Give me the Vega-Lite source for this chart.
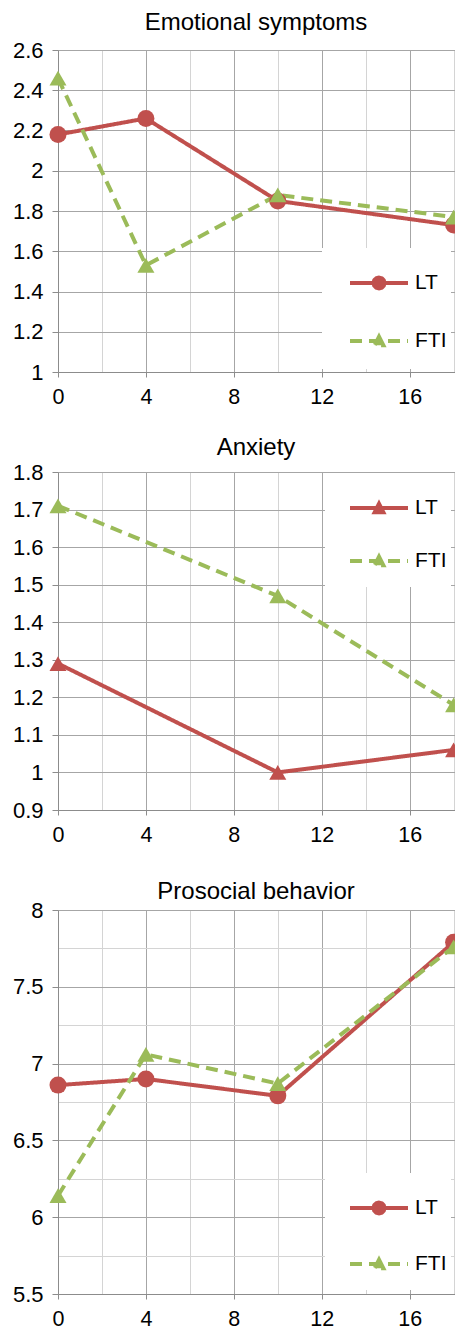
{
  "$schema": "https://vega.github.io/schema/vega-lite/v6.json",
  "padding": {"left": 12, "top": 10, "right": 0, "bottom": 0},
  "background": "white",
  "spacing": 100,
  "bounds": "flush",
  "config": {
    "font": "Liberation Sans",
    "view": {"stroke": null},
    "axis": {
      "labelFont": "Liberation Sans",
      "labelColor": "black",
      "labelFontSize": 22,
      "labelFlush": false,
      "labelOverlap": false,
      "domainColor": "#8c8c8c",
      "tickColor": "#8c8c8c",
      "gridWidth": 1,
      "title": null
    },
    "legend": {"symbolOpacity": 1},
    "title": {"font": "Liberation Sans", "fontSize": 24, "fontWeight": "normal", "color": "black", "baseline": "alphabetic", "offset": 0}
  },
  "resolve": {
    "scale": {"color": "independent", "shape": "independent", "strokeDash": "independent"},
    "legend": {"color": "independent", "shape": "independent", "strokeDash": "independent"}
  },
  "datasets": {
    "emo": [
      {"group": "LT", "x": 0, "y": 2.18},
      {"group": "LT", "x": 4, "y": 2.26},
      {"group": "LT", "x": 10, "y": 1.85},
      {"group": "LT", "x": 18, "y": 1.73},
      {"group": "FTI", "x": 0, "y": 2.46},
      {"group": "FTI", "x": 4, "y": 1.53},
      {"group": "FTI", "x": 10, "y": 1.88},
      {"group": "FTI", "x": 18, "y": 1.77}
    ],
    "anx": [
      {"group": "LT", "x": 0, "y": 1.29},
      {"group": "LT", "x": 10, "y": 1.0},
      {"group": "LT", "x": 18, "y": 1.06},
      {"group": "FTI", "x": 0, "y": 1.71},
      {"group": "FTI", "x": 10, "y": 1.47},
      {"group": "FTI", "x": 18, "y": 1.18}
    ],
    "pro": [
      {"group": "LT", "x": 0, "y": 6.86},
      {"group": "LT", "x": 4, "y": 6.9},
      {"group": "LT", "x": 10, "y": 6.79},
      {"group": "LT", "x": 18, "y": 7.79},
      {"group": "FTI", "x": 0, "y": 6.14},
      {"group": "FTI", "x": 4, "y": 7.06},
      {"group": "FTI", "x": 10, "y": 6.87},
      {"group": "FTI", "x": 18, "y": 7.76}
    ]
  },
  "vconcat": [
    {
      "width": 400,
      "height": 322,
      "title": {"text": "Emotional symptoms", "dx": -2, "dy": -0.5},
      "data": {"name": "emo"},
      "encoding": {
        "x": {"field": "x", "type": "quantitative", "scale": {"domain": [0, 18.2], "nice": false, "zero": false},
          "axis": {"values": [0, 2, 4, 6, 8, 10, 12, 14, 16, 18], "labelExpr": "datum.value % 4 === 0 ? datum.label : ''",
            "gridColor": {"condition": {"test": "datum.value % 4 === 0", "value": "#a6a6a6"}, "value": "#d4d4d4"},
            "tickOpacity": {"condition": {"test": "datum.value % 4 === 0", "value": 1}, "value": 0},
            "tickSize": 5, "labelPadding": 9, "labelFontSize": 21.5}},
        "y": {"field": "y", "type": "quantitative", "scale": {"domain": [1, 2.6], "nice": false, "zero": false},
          "axis": {"values": [1, 1.2, 1.4, 1.6, 1.8, 2, 2.2, 2.4, 2.6], "format": "~g", "gridColor": "#a6a6a6", "tickSize": 6, "labelPadding": 9}}
      },
      "layer": [
        {
          "mark": {"type": "line", "strokeWidth": 4, "strokeCap": "butt", "strokeJoin": "round"},
          "encoding": {
            "color": {"field": "group", "type": "nominal", "scale": {"domain": ["LT", "FTI"], "range": ["#C0504D", "#9BBB59"]},
              "legend": {"title": null, "orient": "none", "legendX": 264, "legendY": 198, "direction": "vertical",
                "fillColor": "white", "padding": 4, "symbolSize": 3364, "symbolStrokeWidth": 4, "symbolOffset": 22, "symbolOpacity": 1,
                "labelOffset": 5, "labelFontSize": 21, "labelFont": "Liberation Sans", "labelColor": "black", "rowPadding": -1}},
            "strokeDash": {"field": "group", "type": "nominal", "scale": {"domain": ["LT", "FTI"], "range": [[1, 0], [12, 7]]}, "legend": null}
          }
        },
        {
          "mark": {"type": "point", "filled": true, "size": 0.01, "opacity": 1},
          "encoding": {
            "color": {"field": "group", "type": "nominal"},
            "shape": {"field": "group", "type": "nominal", "legend": null, "scale": {"domain": ["LT", "FTI"], "range": [
              "M0,-0.9M0,0.55M-1,0L1,0M0.19,0L0.165,0.095L0.095,0.165L0,0.19L-0.095,0.165L-0.165,0.095L-0.19,0L-0.165,-0.095L-0.095,-0.165L0,-0.19L0.095,-0.165L0.165,-0.095Z",
              "M0,-0.9M0,0.55M-1,0L1,0M0,-0.15L0.15,0.15L-0.15,0.15Z"]}}
          }
        },
        {"transform": [{"filter": "datum.group === 'LT'"}],
          "mark": {"type": "point", "filled": true, "size": 290, "opacity": 1, "shape": "circle", "color": "#C0504D"}},
        {"transform": [{"filter": "datum.group === 'FTI'"}],
          "mark": {"type": "point", "filled": true, "size": 290, "opacity": 1, "shape": "triangle-up", "color": "#9BBB59"}}
      ]
    },
    {
      "width": 400,
      "height": 338,
      "title": {"text": "Anxiety", "dx": -2, "dy": 2.5},
      "data": {"name": "anx"},
      "encoding": {
        "x": {"field": "x", "type": "quantitative", "scale": {"domain": [0, 18.2], "nice": false, "zero": false},
          "axis": {"values": [0, 2, 4, 6, 8, 10, 12, 14, 16, 18], "labelExpr": "datum.value % 4 === 0 ? datum.label : ''",
            "gridColor": {"condition": {"test": "datum.value % 4 === 0", "value": "#a6a6a6"}, "value": "#d4d4d4"},
            "tickOpacity": {"condition": {"test": "datum.value % 4 === 0", "value": 1}, "value": 0},
            "tickSize": 5, "labelPadding": 9, "labelFontSize": 21.5}},
        "y": {"field": "y", "type": "quantitative", "scale": {"domain": [0.9, 1.8], "nice": false, "zero": false},
          "axis": {"values": [0.9, 1, 1.1, 1.2, 1.3, 1.4, 1.5, 1.6, 1.7, 1.8], "format": "~g", "gridColor": "#a6a6a6", "tickSize": 6, "labelPadding": 9}}
      },
      "layer": [
        {
          "mark": {"type": "line", "strokeWidth": 4, "strokeCap": "butt", "strokeJoin": "round"},
          "encoding": {
            "color": {"field": "group", "type": "nominal", "scale": {"domain": ["LT", "FTI"], "range": ["#C0504D", "#9BBB59"]},
              "legend": {"title": null, "orient": "none", "legendX": 267, "legendY": 1, "direction": "vertical",
                "fillColor": "white", "padding": 4, "symbolSize": 3364, "symbolStrokeWidth": 4, "symbolOffset": 19, "symbolOpacity": 1,
                "labelOffset": 5, "labelFontSize": 21, "labelFont": "Liberation Sans", "labelColor": "black", "rowPadding": 0}},
            "strokeDash": {"field": "group", "type": "nominal", "scale": {"domain": ["LT", "FTI"], "range": [[1, 0], [12, 7]]}, "legend": null}
          }
        },
        {
          "mark": {"type": "point", "filled": true, "size": 0.01, "opacity": 1},
          "encoding": {
            "color": {"field": "group", "type": "nominal"},
            "shape": {"field": "group", "type": "nominal", "legend": null, "scale": {"domain": ["LT", "FTI"], "range": [
              "M0,-0.75M0,0.48M-1,0L1,0M0,-0.15L0.15,0.15L-0.15,0.15Z",
              "M0,-0.75M0,0.48M-1,0L1,0M0,-0.15L0.15,0.15L-0.15,0.15Z"]}}
          }
        },
        {"transform": [{"filter": "datum.group === 'LT'"}],
          "mark": {"type": "point", "filled": true, "size": 290, "opacity": 1, "shape": "triangle-up", "color": "#C0504D"}},
        {"transform": [{"filter": "datum.group === 'FTI'"}],
          "mark": {"type": "point", "filled": true, "size": 290, "opacity": 1, "shape": "triangle-up", "color": "#9BBB59"}}
      ]
    },
    {
      "width": 400,
      "height": 384,
      "title": {"text": "Prosocial behavior", "dx": -2, "dy": 8.5},
      "data": {"name": "pro"},
      "encoding": {
        "x": {"field": "x", "type": "quantitative", "scale": {"domain": [0, 18.2], "nice": false, "zero": false},
          "axis": {"values": [0, 2, 4, 6, 8, 10, 12, 14, 16, 18], "labelExpr": "datum.value % 4 === 0 ? datum.label : ''",
            "gridColor": {"condition": {"test": "datum.value % 4 === 0", "value": "#a6a6a6"}, "value": "#d4d4d4"},
            "tickOpacity": {"condition": {"test": "datum.value % 4 === 0", "value": 1}, "value": 0},
            "tickSize": 5, "labelPadding": 9, "labelFontSize": 21.5}},
        "y": {"field": "y", "type": "quantitative", "scale": {"domain": [5.5, 8], "nice": false, "zero": false},
          "axis": {"values": [5.5, 5.75, 6, 6.25, 6.5, 6.75, 7, 7.25, 7.5, 7.75, 8], "format": "~g",
            "labelExpr": "datum.value % 0.5 === 0 ? datum.label : ''",
            "gridColor": {"condition": {"test": "datum.value % 0.5 === 0", "value": "#a6a6a6"}, "value": "#d4d4d4"},
            "tickOpacity": {"condition": {"test": "datum.value % 0.5 === 0", "value": 1}, "value": 0},
            "tickSize": 6, "labelPadding": 9}}
      },
      "layer": [
        {
          "mark": {"type": "line", "strokeWidth": 4, "strokeCap": "butt", "strokeJoin": "round"},
          "encoding": {
            "color": {"field": "group", "type": "nominal", "scale": {"domain": ["LT", "FTI"], "range": ["#C0504D", "#9BBB59"]},
              "legend": {"title": null, "orient": "none", "legendX": 267, "legendY": 263, "direction": "vertical",
                "fillColor": "white", "padding": 4, "symbolSize": 3364, "symbolStrokeWidth": 4, "symbolOffset": 19, "symbolOpacity": 1,
                "labelOffset": 5, "labelFontSize": 21, "labelFont": "Liberation Sans", "labelColor": "black", "rowPadding": 1}},
            "strokeDash": {"field": "group", "type": "nominal", "scale": {"domain": ["LT", "FTI"], "range": [[1, 0], [12, 7]]}, "legend": null}
          }
        },
        {
          "mark": {"type": "point", "filled": true, "size": 0.01, "opacity": 1},
          "encoding": {
            "color": {"field": "group", "type": "nominal"},
            "shape": {"field": "group", "type": "nominal", "legend": null, "scale": {"domain": ["LT", "FTI"], "range": [
              "M0,-0.83M0,0.48M-1,0L1,0M0.19,0L0.165,0.095L0.095,0.165L0,0.19L-0.095,0.165L-0.165,0.095L-0.19,0L-0.165,-0.095L-0.095,-0.165L0,-0.19L0.095,-0.165L0.165,-0.095Z",
              "M0,-0.83M0,0.48M-1,0L1,0M0,-0.15L0.15,0.15L-0.15,0.15Z"]}}
          }
        },
        {"transform": [{"filter": "datum.group === 'LT'"}],
          "mark": {"type": "point", "filled": true, "size": 290, "opacity": 1, "shape": "circle", "color": "#C0504D"}},
        {"transform": [{"filter": "datum.group === 'FTI'"}],
          "mark": {"type": "point", "filled": true, "size": 290, "opacity": 1, "shape": "triangle-up", "color": "#9BBB59"}}
      ]
    }
  ]
}
